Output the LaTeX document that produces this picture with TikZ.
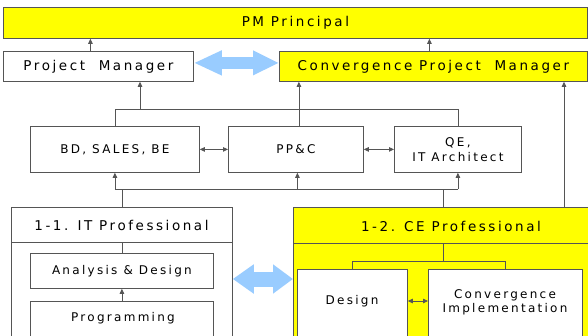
\documentclass[tikz,border=0pt]{standalone}
\usepackage{fontspec}
\setmainfont{DejaVu Sans}[LetterSpace=19]
\usetikzlibrary{arrows.meta}
\definecolor{lnc}{RGB}{85,85,85}
\definecolor{yel}{RGB}{255,255,0}
\definecolor{blu}{RGB}{153,204,255}
\tikzset{
  box/.style={draw=lnc, line width=0.8pt, inner sep=0pt, anchor=north west, align=center,
              font=\fontsize{12}{15}\selectfont},
  ybox/.style={box, fill=yel},
  big/.style={font=\fontsize{13.5}{16}\selectfont},
  txt/.style={inner sep=0pt, align=center, font=\fontsize{12}{14}\selectfont},
  wire/.style={draw=lnc, line width=0.8pt},
  arr/.style={wire, -{Triangle[length=5pt,width=4.5pt]}},
  darr/.style={wire, {Triangle[length=5pt,width=4.5pt]}-{Triangle[length=5pt,width=4.5pt]}},
}
\begin{document}
\begin{tikzpicture}[x=1pt,y=-1pt]
\clip (0,0) rectangle (588,335);
\fill[white] (0,0) rectangle (588,335);
% top row
\node[ybox, big, minimum width=584, minimum height=31] (pmp) at (3,7) {PM Principal};
\node[box, big, minimum width=190, minimum height=30] (pm) at (3,51) {Project~~Manager};
\node[ybox, big, minimum width=308, minimum height=30] (cpm) at (279,51) {Convergence Project~~Manager};
% middle row
\node[box, minimum width=169, minimum height=46] (bd) at (30,126) {BD, SALES, BE};
\node[box, minimum width=135, minimum height=46] (ppc) at (228,126) {PP\&C};
\node[box, minimum width=127, minimum height=46] (qe) at (394,126) {QE,\\IT Architect};
% lower groups
\node[box, minimum width=221, minimum height=140] (itp) at (11,207) {};
\node[ybox, minimum width=300, minimum height=140] (cep) at (293,207) {};
\coordinate (itdiv) at (0,242);
\coordinate (cediv) at (0,243);
\draw[wire] (itp.west |- itdiv) -- (itp.east |- itdiv);
\draw[wire] (cep.west |- cediv) -- (cep.east |- cediv);
\node[txt, big] (itpT) at (121.5,225) {1-1. IT Professional};
\node[txt, big] (cepT) at (451,226) {1-2. CE Professional};
\node[box, minimum width=183, minimum height=35] (ad) at (30,253) {Analysis \& Design};
\node[box, minimum width=183, minimum height=50] (prog) at (30,301) {};
\node[txt] (progT) at (123,318) {Programming};
\node[box, fill=white, minimum width=110, minimum height=80] (des) at (297,269) {};
\node[box, fill=white, minimum width=154, minimum height=80] (conv) at (428,269) {};
\node[txt] (desT) at (352,301) {Design};
\node[txt] (convT) at (505,302) {Convergence\\Implementation};
% big blue arrows
\coordinate (lowarr) at (0,279);
\draw[blu, line width=12pt, {Triangle[length=28pt,width=23pt]}-{Triangle[length=26pt,width=23pt]}]
  ([yshift=3.5]pm.east) -- ([yshift=3.5]cpm.west);
\draw[blu, line width=15pt, {Triangle[length=21pt,width=28pt]}-{Triangle[length=20pt,width=28pt]}]
  (itp.east |- lowarr) -- (cep.west |- lowarr);
% connectors top
\draw[arr] ([xshift=-8]pm.north) -- ([xshift=-8]pm.north |- pmp.south);
\draw[arr] ([xshift=-4]cpm.north) -- ([xshift=-4]cpm.north |- pmp.south);
\coordinate (topbus) at (140,109);
\draw[wire] (bd.north) |- (qe.north |- topbus) -- (qe.north);
\draw[arr] (topbus) -- (topbus |- pm.south);
\draw[arr] ([xshift=3]ppc.north) -- ([xshift=3]ppc.north |- cpm.south);
\coordinate (rt) at (564,207);
\draw[arr] (rt) -- (rt |- cpm.south);
% middle double arrows
\draw[darr] (bd.east) -- (ppc.west);
\draw[darr] (ppc.east) -- (qe.west);
% bottom bus
\coordinate (botbus) at (0,189);
\draw[wire] (bd.south |- botbus) -- (qe.south |- botbus);
\draw[arr] (bd.south |- botbus) -- (bd.south);
\draw[arr] ([xshift=1.5]ppc.south |- botbus) -- ([xshift=1.5]ppc.south);
\draw[arr] (qe.south |- botbus) -- (qe.south);
\draw[wire] (itp.north) -- (itp.north |- botbus);
\draw[wire] (cep.north) -- (cep.north |- botbus);
% inside IT
\draw[wire] (ad.north |- itdiv) -- (ad.north);
\draw[arr] (prog.north) -- (ad.south);
% inside CE
\coordinate (cebus) at (0,261);
\draw[wire] (cep.north |- cediv) -- (cep.north |- cebus);
\draw[wire] (des.north) |- (conv.north |- cebus) -- (conv.north);
\draw[darr] (des.east |- desT) -- (conv.west |- desT);
\end{tikzpicture}
\end{document}
